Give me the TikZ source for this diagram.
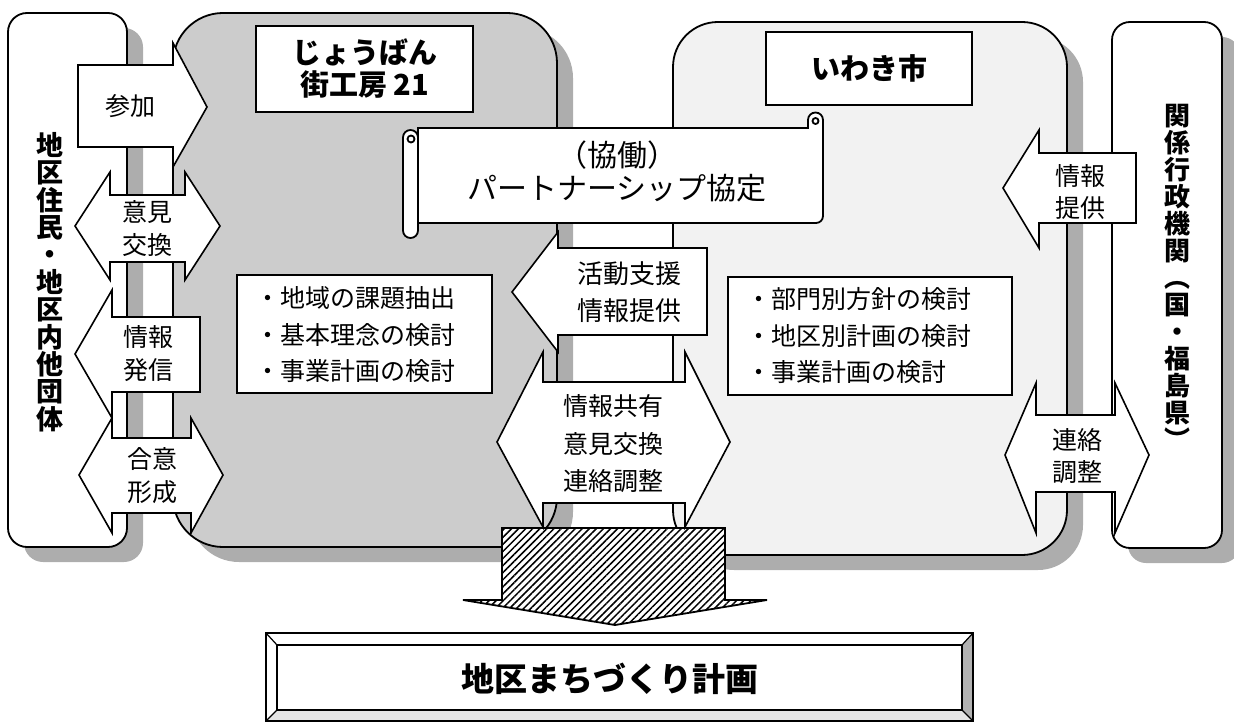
\documentclass[tikz,border=0pt]{standalone}
\usepackage{fontspec}
\setmainfont{Noto Sans CJK JP}
\usepackage{xcolor}
\usetikzlibrary{patterns.meta}
\definecolor{boxgray}{gray}{0.8}
\definecolor{palegray}{gray}{0.95}
\definecolor{shadowgray}{gray}{0.68}
\setlength{\lineskiplimit}{-20pt}

\begin{document}
\begin{tikzpicture}[x=1pt,y=-1pt,
    outline/.style={line width=1.8pt},
    blockarrow/.style={draw,line width=1.6pt,fill=white,line join=miter},
    lbl/.style={font=\fontsize{25}{33}\selectfont,align=center,inner sep=0pt},
    listtxt/.style={font=\fontsize{25}{36.5}\selectfont,align=left,inner sep=0pt,anchor=west},
    ttl/.style={font=\bfseries\fontsize{29}{32}\selectfont,align=center,inner sep=0pt},
    vtxt/.style={font=\bfseries\fontsize{27}{27.4}\selectfont,align=center,inner sep=0pt}]
        \useasboundingbox (0,0) rectangle (1234,722);
        \fill[shadowgray,rounded corners=19pt] (24,28) rectangle (143,562);
        \fill[shadowgray,rounded corners=50pt] (189,28) rectangle (573,562);
        \fill[shadowgray,rounded corners=45pt] (689,37) rectangle (1083,570);
        \fill[shadowgray,rounded corners=18pt] (1128,37) rectangle (1240,563);
        \draw[outline,fill=white,rounded corners=19pt] (8,13) rectangle (127,547);
        \draw[outline,fill=boxgray,rounded corners=50pt] (173,13) rectangle (557,547);
        \draw[outline,fill=palegray,rounded corners=45pt] (673,22) rectangle (1067,555);
        \draw[outline,fill=white,rounded corners=18pt] (1112,22) rectangle (1222,548);
        \node[vtxt] (jumin) at (50,282) {地\\区\\住\\民\\・\\地\\区\\内\\他\\団\\体};
        \node[vtxt,font=\bfseries\fontsize{26}{27}\selectfont] (gyosei) at (1177,277) {関\\係\\行\\政\\機\\関\\︵\\国\\・\\福\\島\\県\\︶};
        \node[draw,outline,fill=white,minimum width=217pt,minimum height=86pt,ttl] (joban) at (364.5,69) {じょうばん\\街工房 21};
        \node[draw,outline,fill=white,minimum width=206pt,minimum height=73pt,ttl] (iwaki) at (869,68.5) {いわき市};
        \draw[outline,fill=white] (237,275) rectangle (492,393);
        \node[listtxt] (kadai) at (255,335) {・地域の課題抽出\\・基本理念の検討\\・事業計画の検討};
        \draw[outline,fill=white] (728,277) rectangle (1012,395);
        \node[listtxt] (bumon) at (746,336) {・部門別方針の検討\\・地区別計画の検討\\・事業計画の検討};
        \draw[outline,fill=white] (418,128) -- (808,128) -- (808,120) arc[start angle=180,end angle=360,radius=7.5] -- (823,216) arc[start angle=0,end angle=90,radius=7] -- (418,223) -- cycle;
        \draw[outline] (815.5,121) circle[radius=3];
        \draw[outline,fill=white,rounded corners=7.5pt] (403,130) rectangle (418,238);
        \draw[outline] (411,139) circle[radius=3.5];
        \node[lbl,font=\fontsize{30}{33}\selectfont] (kyotei) at (617,171) {（協働）\\パートナーシップ協定};
        \draw[blockarrow] (78,65) -- (173,65) -- (173,43) -- (207,107) -- (173,167) -- (173,147) -- (78,147) -- cycle;
        \node[lbl] (sanka) at (130,106) {参加};
        \draw[blockarrow] (75,226) -- (110,172) -- (110,195) -- (185,195) -- (185,172) -- (220,226) -- (185,280) -- (185,262) -- (110,262) -- (110,280) -- cycle;
        \node[lbl] (iken) at (147,229) {意見\\交換};
        \draw[blockarrow] (75,354) -- (112,290) -- (112,317) -- (200,317) -- (200,392) -- (112,392) -- (112,418) -- cycle;
        \node[lbl] (hasshin) at (148,354) {情報\\発信};
        \draw[blockarrow] (79,475) -- (112,418) -- (112,438) -- (191,438) -- (191,418) -- (223,475) -- (191,533) -- (191,513) -- (112,513) -- (112,533) -- cycle;
        \node[lbl] (goi) at (152,476) {合意\\形成};
        \draw[blockarrow] (512,292) -- (558,232) -- (558,248) -- (707,248) -- (707,335) -- (558,335) -- (558,352) -- cycle;
        \node[lbl,font=\fontsize{26}{37}\selectfont] (shien) at (629,292) {活動支援\\情報提供};
        \draw[preaction={fill=white},pattern={Lines[angle=45,distance=5pt,line width=1.5pt]},line width=1.8pt,line join=miter] (502,528) -- (725,528) -- (725,600) -- (767,600) -- (615,625) -- (463,600) -- (502,600) -- cycle;
        \draw[blockarrow] (497,442) -- (543,352) -- (543,382) -- (685,382) -- (685,352) -- (730,442) -- (685,527) -- (685,503) -- (543,503) -- (543,527) -- cycle;
        \node[lbl,font=\fontsize{25}{37.5}\selectfont] (kyoyu) at (613,444) {情報共有\\意見交換\\連絡調整};
        \draw[blockarrow] (1003,188) -- (1039,130) -- (1039,153) -- (1136,153) -- (1136,223) -- (1039,223) -- (1039,248) -- cycle;
        \node[lbl,font=\fontsize{25}{32}\selectfont] (teikyo) at (1080,192) {情報\\提供};
        \draw[blockarrow] (1005,455) -- (1036,383) -- (1036,415) -- (1115,415) -- (1115,383) -- (1149,455) -- (1115,533) -- (1115,492) -- (1036,492) -- (1036,533) -- cycle;
        \node[lbl,font=\fontsize{25}{32}\selectfont] (chosei) at (1077,456) {連絡\\調整};
        \fill[black!30] (962,645) -- (973,633) -- (973,721) -- (962,710) -- cycle;
        \fill[black!10] (277,710) -- (962,710) -- (973,721) -- (266,721) -- cycle;
        \draw[outline] (266,633) rectangle (973,721);
        \draw[outline] (277,645) rectangle (962,710);
        \draw[line width=1.2pt] (266,633) -- (277,645) (973,633) -- (962,645) (973,721) -- (962,710) (266,721) -- (277,710);
        \node[font=\bfseries\fontsize{33}{36}\selectfont,inner sep=0pt] (keikaku) at (610,679) {地区まちづくり計画};
\end{tikzpicture}
\end{document}
